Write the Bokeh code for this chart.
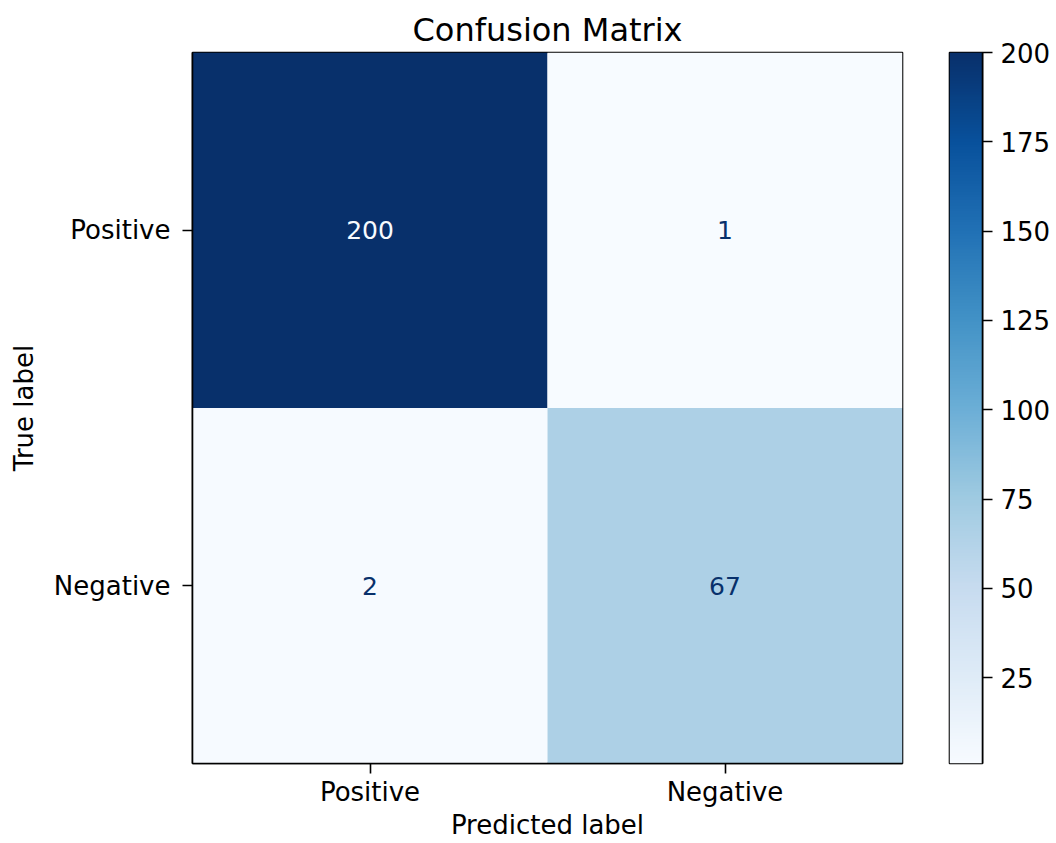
import numpy as np
from bokeh.plotting import figure
from bokeh.models import (ColumnDataSource, LinearColorMapper, FactorRange, Range1d,
                          FixedTicker, Row)
from bokeh.transform import transform
from bokeh.palettes import Blues256
from bokeh.embed import file_html
from bokeh.resources import INLINE

# ---- data ----
labels = ["Positive", "Negative"]
true_labels = ["Positive", "Positive", "Negative", "Negative"]
pred_labels = ["Positive", "Negative", "Positive", "Negative"]
counts = [200, 1, 2, 67]
cbar_ticks = [25, 50, 75, 100, 125, 150, 175, 200]

FONT = "DejaVu Sans"
TICK_FS = "26px"
palette = list(Blues256)[::-1]  # light -> dark
low, high = min(counts), max(counts)
mapper = LinearColorMapper(palette=palette, low=low, high=high)

thresh = (low + high) / 2.0
text_colors = [palette[0] if c > thresh else palette[-1] for c in counts]

src = ColumnDataSource(dict(x=pred_labels, y=true_labels, v=counts,
                            t=[str(c) for c in counts], tc=text_colors))

H = 843
p = figure(width=940, height=H, output_backend="svg", toolbar_location=None,
           x_range=FactorRange(*labels), y_range=FactorRange(*labels[::-1]),
           title="Confusion Matrix",
           min_border_left=192, min_border_right=38, min_border_top=52,
           min_border_bottom=H - 52 - 711)
p.rect(x="x", y="y", width=1, height=1, source=src,
       fill_color=transform("v", mapper), line_color=None)
p.text(x="x", y="y", text="t", source=src, text_color="tc",
       text_align="center", text_baseline="middle",
       text_font_size="25px", text_font={"value": FONT})

p.title.align = "center"
p.title.text_font = FONT
p.title.text_font_size = "32px"
p.title.text_font_style = "normal"
p.title.text_color = "black"
p.title.standoff = 7

p.grid.visible = False
p.outline_line_color = "black"
p.outline_line_width = 1.6
p.outline_line_alpha = 1.0

for ax in (p.xaxis[0], p.yaxis[0]):
    ax.major_label_text_font = FONT
    ax.major_label_text_font_size = TICK_FS
    ax.major_label_text_color = "black"
    ax.axis_label_text_font = FONT
    ax.axis_label_text_font_size = TICK_FS
    ax.axis_label_text_font_style = "normal"
    ax.axis_label_text_color = "black"
    ax.axis_line_color = "black"
    ax.axis_line_width = 1.6
    ax.major_tick_line_color = "black"
    ax.major_tick_line_width = 1.6
    ax.major_tick_out = 10
    ax.major_tick_in = 0
    ax.minor_tick_line_color = None

p.xaxis.major_label_standoff = 3
p.yaxis.major_label_standoff = 12
p.xaxis.axis_label = "Predicted label"
p.yaxis.axis_label = "True label"
p.xaxis.axis_label_standoff = 0
p.yaxis.axis_label_standoff = 12

# ---- colorbar ----
cb = figure(width=113, height=H, output_backend="svg", toolbar_location=None,
            x_range=Range1d(0, 1), y_range=Range1d(low, high),
            x_axis_location=None, y_axis_location="right",
            min_border_left=9, min_border_right=68, min_border_top=52,
            min_border_bottom=H - 52 - 711)
grad = np.linspace(low, high, 512).reshape(-1, 1)
cb.image(image=[grad], x=0, y=low, dw=1, dh=high - low, color_mapper=mapper)
cb.grid.visible = False
cb.outline_line_color = "black"
cb.outline_line_width = 1.6
cb.outline_line_alpha = 1.0
ya = cb.yaxis[0]
ya.ticker = FixedTicker(ticks=cbar_ticks)
ya.major_label_text_font = FONT
ya.major_label_text_font_size = TICK_FS
ya.major_label_text_color = "black"
ya.axis_line_color = "black"
ya.axis_line_width = 1.6
ya.major_tick_line_color = "black"
ya.major_tick_line_width = 1.6
ya.major_tick_out = 10
ya.major_tick_in = 0
ya.minor_tick_line_color = None
ya.major_label_standoff = 8

layout = Row(p, cb, spacing=0)
open("out.html", "w").write(file_html(layout, INLINE))
